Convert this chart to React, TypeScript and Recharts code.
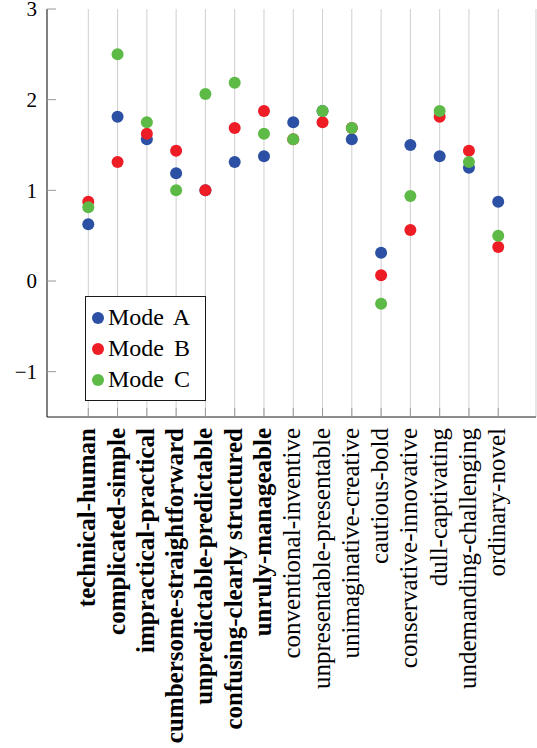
import React from 'react';
import { ScatterChart, Scatter, XAxis, YAxis, CartesianGrid, Legend } from 'recharts';

const CATEGORIES = [
  'technical-human',
  'complicated-simple',
  'impractical-practical',
  'cumbersome-straightforward',
  'unpredictable-predictable',
  'confusing-clearly structured',
  'unruly-manageable',
  'conventional-inventive',
  'unpresentable-presentable',
  'unimaginative-creative',
  'cautious-bold',
  'conservative-innovative',
  'dull-captivating',
  'undemanding-challenging',
  'ordinary-novel',
];

// first seven labels are set in bold
const BOLD = [true, true, true, true, true, true, true, false, false, false, false, false, false, false, false];

const MODE_A = [0.625, 1.8125, 1.5625, 1.1875, 1.0, 1.3125, 1.375, 1.75, 1.875, 1.5625, 0.3125, 1.5, 1.375, 1.25, 0.875];
const MODE_B = [0.875, 1.3125, 1.625, 1.4375, 1.0, 1.6875, 1.875, 1.5625, 1.75, 1.6875, 0.0625, 0.5625, 1.8125, 1.4375, 0.375];
const MODE_C = [0.8125, 2.5, 1.75, 1.0, 2.0625, 2.1875, 1.625, 1.5625, 1.875, 1.6875, -0.25, 0.9375, 1.875, 1.3125, 0.5];

const Y_TICKS = [-1, 0, 1, 2, 3];
const X_TICKS = CATEGORIES.map((_, i) => i);

const SERIES = [
  { name: 'Mode A', color: '#2c50a4', values: MODE_A },
  { name: 'Mode B', color: '#ee1c25', values: MODE_B },
  { name: 'Mode C', color: '#5dba47', values: MODE_C },
];

const FONT = "'Liberation Serif', 'DejaVu Serif', serif";
const TICK_COLOR = '#999';
const FRAME = '#1a1a1a';
const X_DOMAIN = [-1.41, 15.29];
const Y_DOMAIN = [-1.5, 3];

const fmt = (v: number) => (v < 0 ? `\u2212${Math.abs(v)}` : String(v));

const BottomTick = (props: any) => {
  const { x, y, payload } = props;
  const i = payload.value;
  const tx = x + 7;
  const ty = y + 11;
  return (
    <g>
      <line x1={x} y1={y} x2={x} y2={y - 9} stroke={TICK_COLOR} />
      <text
        x={tx}
        y={ty}
        transform={`rotate(-90, ${tx}, ${ty})`}
        textAnchor="end"
        style={{ fontFamily: FONT }}
        fontSize={25}
        fontWeight={BOLD[i] ? 'bold' : 'normal'}
        fill="#000"
      >
        {CATEGORIES[i]}
      </text>
    </g>
  );
};

const TopTick = (props: any) => {
  const { x, y } = props;
  return <line x1={x} y1={y} x2={x} y2={y + 9} stroke={TICK_COLOR} />;
};

const LeftTick = (props: any) => {
  const { x, y, payload } = props;
  return (
    <g>
      <line x1={x} y1={y} x2={x + 9} y2={y} stroke={TICK_COLOR} />
      <text x={x - 10} y={y} dy="0.35em" textAnchor="end" style={{ fontFamily: FONT }} fontSize={21} fill="#000">
        {fmt(payload.value)}
      </text>
    </g>
  );
};

const RightTick = (props: any) => {
  const { x, y } = props;
  return <line x1={x} y1={y} x2={x - 9} y2={y} stroke={TICK_COLOR} />;
};

const renderLegend = () => (
  <div
    style={{
      border: `1px solid ${FRAME}`,
      background: '#fff',
      width: 119,
      padding: '5px 0',
      fontFamily: FONT,
      fontSize: 24,
      color: '#000',
    }}
  >
    {SERIES.map(s => (
      <div key={s.name} style={{ display: 'flex', alignItems: 'center', height: 31, paddingLeft: 6 }}>
        <svg width={12} height={12} style={{ display: 'block' }}>
          <circle cx={6} cy={6} r={6} fill={s.color} />
        </svg>
        <span style={{ marginLeft: 4, lineHeight: '31px', whiteSpace: 'nowrap', wordSpacing: 4 }}>{s.name}</span>
      </div>
    ))}
  </div>
);

export default function App() {
  return (
    <div style={{ position: 'absolute', left: 0, top: 0, background: '#fff', fontFamily: FONT }}>
      <ScatterChart width={537} height={748} margin={{ top: 9, right: 1, bottom: 0, left: 0 }}>
        <CartesianGrid xAxisId="b" yAxisId="l" horizontal={false} stroke="#cfcfcf" />
        <XAxis
          xAxisId="b"
          type="number"
          dataKey="x"
          domain={X_DOMAIN}
          allowDataOverflow
          ticks={X_TICKS}
          interval={0}
          height={331}
          tickSize={0}
          tickMargin={0}
          tickLine={false}
          tick={<BottomTick />}
          axisLine={{ stroke: FRAME }}
        />
        <XAxis
          xAxisId="t"
          orientation="top"
          type="number"
          domain={X_DOMAIN}
          allowDataOverflow
          ticks={X_TICKS}
          interval={0}
          height={0}
          tickSize={0}
          tickMargin={0}
          tickLine={false}
          tick={<TopTick />}
          axisLine={{ stroke: FRAME }}
        />
        <YAxis
          yAxisId="l"
          type="number"
          dataKey="y"
          domain={Y_DOMAIN}
          allowDataOverflow
          ticks={Y_TICKS}
          interval={0}
          width={47}
          tickSize={0}
          tickMargin={0}
          tickLine={false}
          tick={<LeftTick />}
          axisLine={{ stroke: FRAME }}
        />
        <YAxis
          yAxisId="r"
          orientation="right"
          type="number"
          domain={Y_DOMAIN}
          allowDataOverflow
          ticks={Y_TICKS}
          interval={0}
          width={0}
          tickSize={0}
          tickMargin={0}
          tickLine={false}
          tick={<RightTick />}
          axisLine={{ stroke: FRAME }}
        />
        <Legend
          layout="vertical"
          align="center"
          verticalAlign="middle"
          content={renderLegend}
          wrapperStyle={{ position: 'absolute', left: 85, top: 296, width: 'auto', height: 'auto' }}
        />
        {SERIES.map(s => (
          <Scatter
            key={s.name}
            name={s.name}
            xAxisId="b"
            yAxisId="l"
            data={s.values.map((v, i) => ({ x: i, y: v }))}
            fill={s.color}
            isAnimationActive={false}
            shape={(p: any) => <circle cx={p.cx} cy={p.cy} r={6} fill={s.color} />}
          />
        ))}
      </ScatterChart>
    </div>
  );
}
